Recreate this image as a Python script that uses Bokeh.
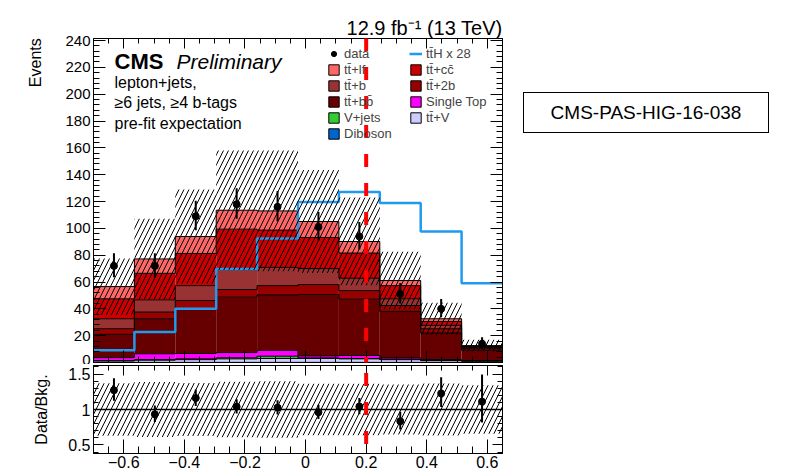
import numpy as np
from bokeh.plotting import figure
from bokeh.layouts import column, row
from bokeh.models import (ColumnDataSource, Range1d, LinearAxis, Label, Legend, LegendItem,
                          BoxAnnotation, Span, SingleIntervalTicker, CustomJSTickFormatter, Div)
from bokeh.embed import file_html
from bokeh.resources import INLINE

FONT = "Liberation Sans"
TT = "tt\u0304"

# ---------------- data ----------------
bin_edges = [-0.7, -0.565, -0.43, -0.295, -0.16, -0.025, 0.11, 0.245, 0.38, 0.515, 0.65]

# stacked backgrounds, bottom to top
diboson    = [0.1, 0.1, 0.1, 0.1, 0.1, 0.1, 0.1, 0.1, 0.05, 0.05]
ttv        = [1.0, 1.6, 2.0, 2.6, 2.9, 2.9, 2.6, 2.0, 1.3, 0.9]
vjets      = [0.3, 0.5, 0.6, 0.8, 1.7, 0.4, 0.3, 0.3, 0.2, 0.1]
single_top = [2.2, 4.3, 4.0, 3.9, 4.4, 1.5, 2.2, 1.0, 0.6, 0.45]
ttbb       = [17.4, 26.1, 33.3, 41.3, 41.3, 45.8, 42.0, 34.7, 19.85, 7.6]
tt2b       = [4.2, 5.0, 6.2, 5.7, 6.9, 7.4, 6.4, 4.4, 3.2, 1.2]
ttb        = [7.4, 9.1, 11.1, 14.8, 13.6, 11.9, 9.2, 5.0, 2.5, 0.8]
ttcc       = [14.9, 19.8, 24.0, 30.2, 27.8, 23.2, 18.8, 9.8, 2.9, 0.8]
ttlf       = [9.1, 10.7, 12.6, 14.1, 14.3, 11.9, 8.6, 3.8, 2.0, 0.7]

bkg_unc    = [21.0, 30.0, 35.0, 44.5, 45.0, 38.3, 32.7, 21.5, 11.9, 4.3]

data_obs    = [72, 72, 109, 118, 116, 101, 94, 51, 40, 14]
data_err_up = [9.5, 9.5, 11.5, 11.9, 11.8, 11.1, 10.7, 8.2, 7.4, 4.8]
data_err_dn = [8.5, 8.5, 10.5, 10.9, 10.8, 10.0, 9.7, 7.1, 6.3, 3.7]

tth_x28 = [9.1, 22.7, 40.0, 69.7, 92.4, 119.7, 127.1, 118.9, 97.6, 59.1]

cut_value = 0.2

proc_values = [diboson, ttv, vjets, single_top, ttbb, tt2b, ttb, ttcc, ttlf]
proc_labels = ["Diboson", TT + "+V", "V+jets", "Single Top", TT + "+bb\u0304",
               TT + "+2b", TT + "+b", TT + "+cc\u0304", TT + "+lf"]
proc_colors = ["#0066CC", "#CCCCFF", "#33CC33", "#FF00FF", "#660000",
               "#990000", "#993333", "#CC0000", "#FF6666"]

# ---------------- derived ----------------
edges = np.array(bin_edges)
left = edges[:-1]
right = edges[1:]
centers = (left + right) / 2
widths = right - left
vals = np.array(proc_values, dtype=float)
cum = np.cumsum(vals, axis=0)
total = cum[-1]
unc = np.array(bkg_unc)
dobs = np.array(data_obs, dtype=float)
eup = np.array(data_err_up)
edn = np.array(data_err_dn)

xr = Range1d(-0.7, 0.65)
HATCH_SCALE = 10


def style_axis(ax, tin, min_in, size="15px", labels=True):
    ax.major_tick_in = tin
    ax.major_tick_out = 0
    ax.minor_tick_in = min_in
    ax.minor_tick_out = 0
    ax.axis_line_color = "black"
    ax.major_tick_line_color = "black"
    ax.minor_tick_line_color = "black"
    ax.major_label_text_font = FONT
    ax.major_label_text_color = "black"
    if labels:
        ax.major_label_text_font_size = size
        ax.major_label_standoff = 3
    else:
        ax.formatter = CustomJSTickFormatter(code="return ''")
        ax.major_label_text_font_size = "0px"
        ax.major_label_standoff = 0


# ---------------- main panel ----------------
p = figure(width=510, height=364, x_range=xr, y_range=Range1d(0, 241.5),
           output_backend="svg", toolbar_location=None,
           title="12.9 fb\u207b\u00b9 (13 TeV)",
           min_border_left=93, min_border_right=8, min_border_top=38, min_border_bottom=2)
p.title.align = "right"
p.title.text_font = FONT
p.title.text_font_size = "20px"
p.title.text_font_style = "normal"
p.title.text_color = "black"
p.title.standoff = 0
p.title.offset = 0
p.xgrid.visible = False
p.ygrid.visible = False
p.outline_line_color = "black"
p.outline_line_alpha = 1
p.background_fill_color = "white"
p.border_fill_color = "white"

src = ColumnDataSource(dict(x=centers, w=widths, **{f"p{i}": vals[i] for i in range(len(vals))}))
p.vbar_stack([f"p{i}" for i in range(len(vals))], x="x", width="w", source=src,
             fill_color=proc_colors, line_color=None)

for i in range(len(vals)):
    ys = list(cum[i]) + [cum[i][-1]]
    p.step(list(edges), ys, mode="after", line_color="black", line_width=1)

tth_r = p.step(list(edges), list(tth_x28) + [tth_x28[-1]], mode="after",
               line_color="#1E9BEF", line_width=2.5)

p.quad(left=left, right=right, bottom=total - unc, top=total + unc,
       fill_alpha=0, line_alpha=0, hatch_pattern="/", hatch_color="black",
       hatch_scale=HATCH_SCALE, hatch_weight=1)

p.segment(x0=centers, x1=centers, y0=dobs - edn, y1=dobs + eup, line_color="black", line_width=2)
data_r = p.scatter(centers, dobs, size=7, color="black")

# axes
p.yaxis.ticker = SingleIntervalTicker(interval=20, num_minor_ticks=5)
style_axis(p.yaxis[0], 12, 6, size="15px")
yax = p.yaxis[0]
# ROOT puts the axis title at the top end of the axis: lead with blank space so the
# centred label shows the word against the top of the frame
yax.axis_label = "\u00a0" * 62 + "Events"
yax.axis_label_text_font = FONT
yax.axis_label_text_font_size = "16px"
yax.axis_label_text_font_style = "normal"
yax.axis_label_text_color = "black"
yax.axis_label_standoff = 18

p.xaxis.ticker = SingleIntervalTicker(interval=0.2, num_minor_ticks=4)
style_axis(p.xaxis[0], 12, 6, labels=False)
ax_top = LinearAxis(ticker=SingleIntervalTicker(interval=0.2, num_minor_ticks=4))
style_axis(ax_top, 10, 5, labels=False)
p.add_layout(ax_top, "above")
ax_right = LinearAxis(ticker=SingleIntervalTicker(interval=20, num_minor_ticks=5))
style_axis(ax_right, 12, 6, labels=False)
p.add_layout(ax_right, "right")

# legend proxies (not drawn in the plot: NaN coordinates)
proxies = {}
for lab_txt, col in zip(proc_labels, proc_colors):
    proxies[lab_txt] = p.quad(left=[np.nan], right=[np.nan], top=[np.nan], bottom=[np.nan],
                              fill_color=col, line_color="black", line_width=1)


def make_legend(items, loc):
    return Legend(items=items, location=loc, padding=0, margin=0, spacing=1,
                  glyph_width=13, glyph_height=13, label_height=13, label_standoff=4,
                  label_text_font=FONT, label_text_font_size="13px",
                  background_fill_alpha=0, border_line_alpha=0)


leg_left = make_legend([
    LegendItem(label="data", renderers=[data_r]),
    LegendItem(label=TT + "+lf", renderers=[proxies[TT + "+lf"]]),
    LegendItem(label=TT + "+b", renderers=[proxies[TT + "+b"]]),
    LegendItem(label=TT + "+bb\u0304", renderers=[proxies[TT + "+bb\u0304"]]),
    LegendItem(label="V+jets", renderers=[proxies["V+jets"]]),
    LegendItem(label="Diboson", renderers=[proxies["Diboson"]]),
], (234, 221))
leg_right = make_legend([
    LegendItem(label=TT + "H x 28", renderers=[tth_r]),
    LegendItem(label=TT + "+cc\u0304", renderers=[proxies[TT + "+cc\u0304"]]),
    LegendItem(label=TT + "+2b", renderers=[proxies[TT + "+2b"]]),
    LegendItem(label="Single Top", renderers=[proxies["Single Top"]]),
    LegendItem(label=TT + "+V", renderers=[proxies[TT + "+V"]]),
], (316, 237))
p.add_layout(leg_left)
p.add_layout(leg_right)


def lab(fig, text, x, y, size, style="normal", align="left", baseline="alphabetic"):
    fig.add_layout(Label(x=x, y=y, x_units="screen", y_units="screen", text=text,
                         text_font=FONT, text_font_size=size, text_font_style=style,
                         text_align=align, text_baseline=baseline, text_color="black"))


lab(p, "CMS", 21, 301, "22px", style="bold")
lab(p, "Preliminary", 83, 301, "21px", style="italic")
lab(p, "lepton+jets,", 21, 280, "16px")
lab(p, "\u22656 jets, \u22654 b-tags", 21, 260, "16px")
lab(p, "pre-fit expectation", 21, 239, "16px")

half_w = 0.0066
p.add_layout(BoxAnnotation(left=cut_value - half_w, right=cut_value + half_w, top=370, bottom=-4,
                           top_units="screen", bottom_units="screen",
                           fill_alpha=0, line_alpha=0, hatch_pattern="-", hatch_color="red",
                           hatch_scale=29, hatch_weight=13, level="overlay"))

# ---------------- ratio panel ----------------
r = figure(width=510, height=109, x_range=xr, y_range=Range1d(0.38, 1.62),
           output_backend="svg", toolbar_location=None, title=None,
           min_border_left=93, min_border_right=8, min_border_top=1, min_border_bottom=20)
r.xgrid.visible = False
r.ygrid.visible = False
r.outline_line_color = "black"
r.outline_line_alpha = 1

rel = unc / total
r.quad(left=left, right=right, bottom=1 - rel, top=1 + rel,
       fill_alpha=0, line_alpha=0, hatch_pattern="/", hatch_color="black",
       hatch_scale=HATCH_SCALE, hatch_weight=1)
r.add_layout(Span(location=1, dimension="width", line_color="black", line_width=1.5))
ratio = dobs / total
r.segment(x0=centers, x1=centers, y0=ratio - edn / total, y1=ratio + eup / total,
          line_color="black", line_width=2)
r.scatter(centers, ratio, size=7, color="black")

r.xaxis.ticker = SingleIntervalTicker(interval=0.2, num_minor_ticks=4)
r.xaxis.formatter = CustomJSTickFormatter(
    code="const v = Math.round(tick*10)/10; if (v === 0) return '0'; return v < 0 ? '\u2212' + String(-v) : String(v);")
style_axis(r.xaxis[0], 14, 7, size="16px")
r.xaxis.major_label_standoff = 2
r.yaxis.ticker = SingleIntervalTicker(interval=0.5, num_minor_ticks=5)
r.yaxis.formatter = CustomJSTickFormatter(code="return String(Math.round(tick*10)/10);")
style_axis(r.yaxis[0], 10, 5, size="16px")
rax = r.yaxis[0]
rax.axis_label = "Data/Bkg."
rax.axis_label_text_font = FONT
rax.axis_label_text_font_size = "16px"
rax.axis_label_text_font_style = "normal"
rax.axis_label_text_color = "black"
rax.axis_label_standoff = 15
rr = LinearAxis(ticker=SingleIntervalTicker(interval=0.5, num_minor_ticks=5))
style_axis(rr, 10, 5, labels=False)
r.add_layout(rr, "right")
rt = LinearAxis(ticker=SingleIntervalTicker(interval=0.2, num_minor_ticks=4))
style_axis(rt, 10, 5, labels=False)
r.add_layout(rt, "above")

r.add_layout(BoxAnnotation(left=cut_value - half_w, right=cut_value + half_w, top=120, bottom=-30,
                           top_units="screen", bottom_units="screen",
                           fill_alpha=0, line_alpha=0, hatch_pattern="-", hatch_color="red",
                           hatch_scale=29, hatch_weight=13, level="overlay"))

# ---------------- reference box ----------------
box = Div(text=('<div style="width:246px;height:41px;border:1px solid black;display:flex;'
                'align-items:center;justify-content:center;font-family:\'Liberation Sans\';'
                'font-size:19px;color:black;background:white;">CMS-PAS-HIG-16-038</div>'),
          width=250, height=45, margin=(92, 0, 0, 13))

layout = row(column(p, r, spacing=0), box, spacing=0)
open("out.html", "w").write(file_html(layout, INLINE))
